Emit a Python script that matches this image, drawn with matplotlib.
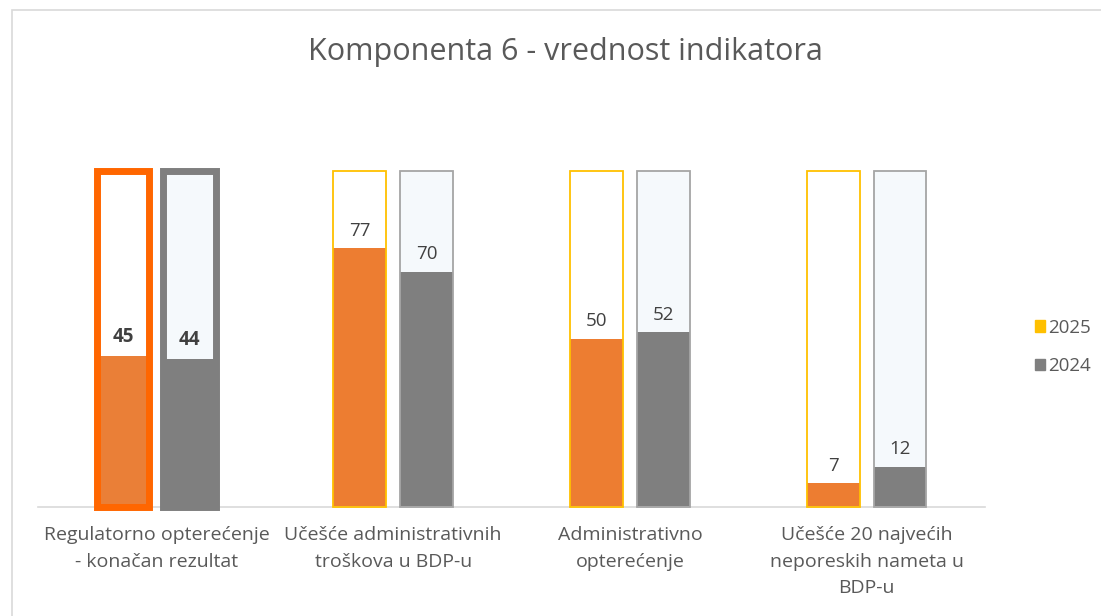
import matplotlib
matplotlib.use("Agg")
import matplotlib.pyplot as plt
from matplotlib.patches import Rectangle, Patch
import numpy as np

plt.rcParams['font.family'] = ['Open Sans', 'DejaVu Sans']

categories = ["Regulatorno opterećenje\n- konačan rezultat",
              "Učešće administrativnih\ntroškova u BDP-u",
              "Administrativno\nopterećenje",
              "Učešće 20 najvećih\nneporeskih nameta u\nBDP-u"]
vals_2025 = [45, 77, 50, 7]
vals_2024 = [44, 70, 52, 12]
max_val = 100
series = ["2025", "2024"]

W, H = 1101, 616
fig = plt.figure(figsize=(W/100, H/100), dpi=100)
fig.patches.append(Rectangle((12/W, -0.1), 1.2, 1 - 10/H + 0.1, transform=fig.transFigure,
                             fill=False, edgecolor='#D9D9D9', linewidth=1.2))

ax = fig.add_axes([38/W, 1 - 507/H, (985-38)/W, (507-171)/H])
ax.set_xlim(0, 4)
ax.set_ylim(0, 100)
for s in ['top', 'right', 'left']:
    ax.spines[s].set_visible(False)
ax.spines['bottom'].set_color('#D9D9D9')
ax.spines['bottom'].set_linewidth(1.2)
ax.set_yticks([])
ax.set_xticks(np.arange(4) + 0.5)
ax.set_xticklabels(categories, fontsize=14, color='#595959', linespacing=1.6)
ax.tick_params(axis='x', length=0, pad=14)

x = np.arange(4) + 0.5
bw = 0.222
off = 0.141

for i in range(4):
    hl = (i == 0)
    # 2025
    ax.bar(x[i]-off, max_val, bw, color='white', edgecolor='none', zorder=1)
    ax.bar(x[i]-off, vals_2025[i], bw, color='#EA7F37' if hl else '#ED7D31', edgecolor='none', zorder=2)
    ax.bar(x[i]-off, max_val, bw, fill=False,
           edgecolor='#FF6600' if hl else '#FFC000',
           linewidth=5 if hl else 1.3, zorder=3, clip_on=False)
    # 2024
    ax.bar(x[i]+off, max_val, bw, color='#F5F9FC', edgecolor='none', zorder=1)
    ax.bar(x[i]+off, vals_2024[i], bw, color='#7F7F7F', edgecolor='none', zorder=2)
    ax.bar(x[i]+off, max_val, bw, fill=False,
           edgecolor='#7F7F7F' if hl else '#A5A5A5',
           linewidth=5 if hl else 1.3, zorder=3, clip_on=False)
    fw = 'bold' if hl else 'normal'
    ax.text(x[i]-off, vals_2025[i] + 2.6, str(vals_2025[i]), ha='center', va='bottom',
            fontsize=13.5, color='#404040', fontweight=fw, zorder=4)
    ax.text(x[i]+off, vals_2024[i] + 2.6, str(vals_2024[i]), ha='center', va='bottom',
            fontsize=13.5, color='#404040', fontweight=fw, zorder=4)

fig.text(565/W, 1 - 52/H, "Komponenta 6 - vrednost indikatora", ha='center', va='center',
         fontsize=22, color='#595959')

handles = [Patch(facecolor='#FFC000', edgecolor='#FFC000'),
           Patch(facecolor='#7F7F7F', edgecolor='#7F7F7F')]
fig.legend(handles, series, loc='center left', bbox_to_anchor=(1018/W, 1 - 347/H),
           frameon=False, fontsize=13.5, labelcolor='#595959', handlelength=0.55,
           handleheight=0.55, handletextpad=0.15, labelspacing=1.1)

fig.savefig("out.png", dpi=100)
